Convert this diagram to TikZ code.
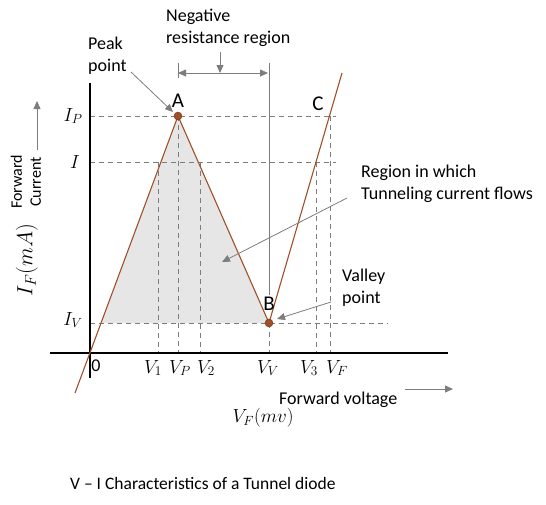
\RequirePackage{fix-cm}
\documentclass[tikz,border=0pt]{standalone}
\usepackage{fontspec}
\setmainfont{Carlito}
\usetikzlibrary{arrows.meta}

\definecolor{curvebrown}{RGB}{160,80,40}
\definecolor{guidegray}{RGB}{125,125,125}
\definecolor{shadegray}{RGB}{231,230,230}

\tikzset{
  guide/.style={guidegray, line width=1pt, dash pattern=on 5pt off 4pt},
  callout/.style={guidegray, line width=0.8pt, -{Triangle[length=8pt,width=7pt]}},
  txt/.style={font=\fontsize{18}{22}\selectfont, align=left, inner sep=0pt},
  mlab/.style={font=\fontsize{19}{22}\selectfont, inner sep=0pt},
  ptlab/.style={font=\fontsize{21}{24}\selectfont, inner sep=0pt},
  dot/.style={circle, fill=curvebrown, draw=curvebrown!70!black, inner sep=0pt, minimum size=8pt}
}

\begin{document}
\begin{tikzpicture}[x=1pt, y=-1pt]
  \useasboundingbox (0,0) rectangle (546,504);

  % points of the curve
  \coordinate (O) at (90,353);
  \coordinate (A) at (178,116);
  \coordinate (B) at (269,323);
  \coordinate (low) at (75,393);
  \coordinate (high) at (342,73);

  % tunneling region
  \fill[shadegray] (101,323) -- (A) -- (B) -- cycle;

  % dashed guides
  \draw[guide] (90,116) -- (336,116);
  \draw[guide] (90,162) -- (336,162);
  \draw[guide] (90,323) -- (388,323);
  \foreach \x/\ytop/\xlab/\vtext in {158/162/153/V_1, 178/116/180/V_P, 200/162/206/V_2,
      269/323/268/V_V, 316/162/309/V_3, 330/116/337/V_F}
  {
    \draw[guide] (\x,\ytop) -- (\x,353);
    \node[mlab] at (\xlab,368) {$\vtext$};
  }

  % axes
  \draw[line width=1.5pt] (90,83) -- (90,378);
  \draw[line width=1.5pt] (50,353) -- (448,353);
  \node[txt] (zero) at (96,366) {0};

  \node[mlab] (ip) at (73,116) {$I_P$};
  \node[mlab] (ii) at (75,162) {$I$};
  \node[mlab] (iv) at (73,320) {$I_V$};

  % characteristic
  \draw[curvebrown, line width=1.1pt, rounded corners=3pt] (low) -- (A) -- (B) -- (high);
  \node[dot] (pa) at (A) {};
  \node[dot] (pb) at (B) {};
  \node[ptlab] (la) at (178,101) {A};
  \node[ptlab] (lb) at (269,304) {B};
  \node[ptlab] (lc) at (318,104) {C};

  % negative resistance region
  \coordinate (tl) at (178,63);
  \coordinate (tlb) at (178,78);
  \coordinate (tr) at (269,63);
  \coordinate (trb) at (269,295);
  \draw[guidegray, line width=0.8pt] (tl) -- (tlb);
  \draw[guidegray, line width=0.8pt] (tr) -- (trb);
  \draw[guidegray, line width=0.8pt, {Triangle[length=8pt,width=7pt]}-{Triangle[length=8pt,width=7pt]}]
    (178,73) -- (268,73);
  \node[txt, anchor=west] (neg) at (166,28) {Negative\\resistance region};
  \coordinate (negtip) at (220,73);
  \draw[callout] (220,52) -- (negtip);

  % callouts
  \node[txt, anchor=west] (peak) at (88,56) {Peak\\point};
  \draw[callout] (131,72) -- (173,112);

  \node[txt, anchor=west] (tunnel) at (361,184) {Region in which\\Tunneling current flows};
  \draw[callout] (347,198) -- (222,262);

  \node[txt, anchor=west] (valley) at (342,288) {Valley\\point};
  \draw[callout] (331,302) -- (277,319);

  \node[txt, anchor=west] (fv) at (279,400) {Forward voltage};
  \draw[callout] (405,389) -- (453,389);
  \node[inner sep=0pt, font=\fontsize{19}{22}\selectfont] (vf) at (263,418) {$V_F(mv)$};

  % vertical axis titles
  \node[rotate=90, align=center, inner sep=0pt, font=\fontsize{16}{19}\selectfont] (fc) at (26,182) {Forward\\Current};
  \draw[callout] (37,150) -- (37,101);
  \node[rotate=90, inner sep=0pt, font=\fontsize{22}{26}\selectfont] (ifma) at (27,260) {$I_F(mA)$};

  \node[anchor=west, inner sep=0pt, font=\fontsize{17.5}{21}\selectfont] (title) at (70,483)
    {V -- I Characteristics of a Tunnel diode};
\end{tikzpicture}
\end{document}
